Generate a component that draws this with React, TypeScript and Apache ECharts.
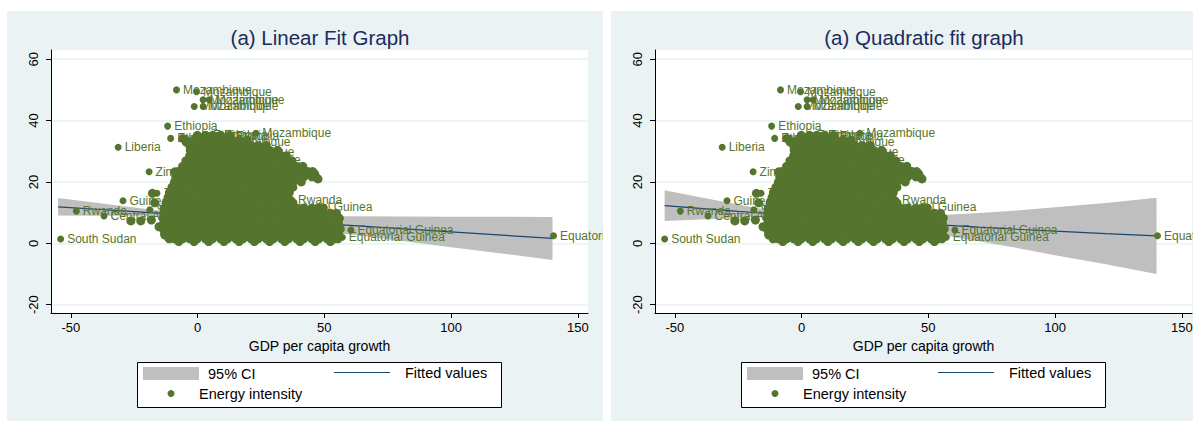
import React, { useEffect, useRef } from "react";
import * as echarts from "echarts";

const FONT = "'Liberation Sans', Arial, Helvetica, sans-serif";
const OLIVE = "#55752F";
const NAVY = "#1A476F";
const BAND = "#BFBFBF";
const PANEL_BG = "#EAF2F3";

const xTicks = [-50, 0, 50, 100, 150];
const yTicks = [-20, 0, 20, 40, 60];

// Linear fit and its 95% CI
const linX = [-55, -40, -25, -10, 0, 10, 25, 40, 60, 80, 100, 120, 140];
const linFit = [11.9, 11.11, 10.32, 9.53, 9.0, 8.47, 7.68, 6.89, 5.83, 4.78, 3.72, 2.66, 1.61];
const linLo = [9.05, 9.02, 8.99, 8.88, 8.68, 7.94, 6.49, 4.94, 2.87, 0.81, -1.26, -3.33, -5.39];
const linHi = [14.75, 13.2, 11.65, 10.18, 9.32, 9.0, 8.87, 8.84, 8.79, 8.75, 8.7, 8.65, 8.61];

// Quadratic fit and its 95% CI
const quadX = [-54, -40, -25, -10, 0, 10, 25, 40, 56, 70, 85, 100, 120, 140];
const quadFit = [12.3, 11.38, 10.43, 9.51, 8.92, 8.35, 7.52, 6.73, 5.93, 5.26, 4.59, 3.95, 3.16, 2.43];
const quadLo = [7.3, 7.78, 8.23, 8.61, 8.52, 7.85, 6.22, 4.43, 2.63, 0.66, -1.51, -3.85, -6.84, -9.97];
const quadHi = [17.3, 14.98, 12.63, 10.41, 9.32, 8.85, 8.82, 9.03, 9.23, 9.86, 10.69, 11.75, 13.16, 14.83];

// Energy intensity vs GDP per capita growth: labelled observations
const labeledPoints: [number, number, string][] = [
  [-8.3, 50.0, "Mozambique"],
  [-0.4, 49.4, "Mozambique"],
  [2.2, 46.8, "Mozambique"],
  [4.6, 46.8, "Mozambique"],
  [-1.3, 44.6, "Mozambique"],
  [2.2, 44.6, "Mozambique"],
  [-11.8, 38.2, "Ethiopia"],
  [-10.6, 34.2, "Ethiopia"],
  [3.5, 35.4, "Ethiopia"],
  [8.0, 35.2, "Ethiopia"],
  [12.5, 34.9, "Ethiopia"],
  [23.0, 35.9, "Mozambique"],
  [7.0, 33.1, "Mozambique"],
  [8.5, 29.9, "Mozambique"],
  [11.0, 27.3, "Mozambique"],
  [-31.3, 31.3, "Liberia"],
  [-19.1, 23.3, "Zimbabwe"],
  [-16.0, 16.3, "Zambia"],
  [-29.4, 13.9, "Guinea"],
  [-47.8, 10.5, "Rwanda"],
  [-36.9, 8.9, "Central African Republic"],
  [-18.8, 10.9, "Sierra Leone"],
  [-54.0, 1.4, "South Sudan"],
  [37.1, 14.1, "Rwanda"],
  [28.5, 11.7, "Equatorial Guinea"],
  [60.5, 4.3, "Equatorial Guinea"],
  [57.1, 2.0, "Equatorial Guinea"],
  [140.4, 2.5, "Equatorial Guinea"],
];

// Dense cloud of observations (drawn over the earlier labels)
const cloudExtras: [number, number][] = [
  [-9.0, 23.3], [-17.8, 16.3], [-16.9, 13.2], [-26.3, 7.3], [-22.4, 7.3],
  [-18.2, 7.6], [-15.2, 5.4], [-12.9, 2.7], [-5.8, 34.2], [-4.5, 33.0],
  [47.5, 21.0], [46.2, 22.6],
];

const cloudRows: [number, number[]][] = [
  [35.2, [-0.1, 3.1, 5.9, 9.1, 12.6]],
  [33.6, [-4.6, -1.4, 1.6, 4.4, 7.6, 10.4, 13.6, 16.4, 19.6]],
  [31.9, [-3.1, -0.1, 3.1, 5.9, 9.1, 11.9, 15.1, 17.9, 21.1, 23.9, 27.1]],
  [30.3, [-2.9, -1.4, 1.6, 4.4, 7.6, 10.4, 13.6, 16.4, 19.6, 22.4, 25.6, 28.4, 31.6]],
  [28.5, [-3.1, -0.1, 3.1, 5.9, 9.1, 11.9, 15.1, 17.9, 21.1, 23.9, 27.1, 29.9, 33.1, 35.0]],
  [26.9, [-4.6, -1.4, 1.6, 4.4, 7.6, 10.4, 13.6, 16.4, 19.6, 22.4, 25.6, 28.4, 31.6, 34.4, 37.2]],
  [25.1, [-5.9, -3.1, -0.1, 3.1, 5.9, 9.1, 11.9, 15.1, 17.9, 21.1, 23.9, 27.1, 29.9, 33.1, 35.9, 39.1, 41.5]],
  [23.4, [-7.4, -4.6, -1.4, 1.6, 4.4, 7.6, 10.4, 13.6, 16.4, 19.6, 22.4, 25.6, 28.4, 31.6, 34.4, 37.6, 40.4, 43.6, 45.4]],
  [21.7, [-8.6, -5.9, -3.1, -0.1, 3.1, 5.9, 9.1, 11.9, 15.1, 17.9, 21.1, 23.9, 27.1, 29.9, 33.1, 35.9, 39.1, 41.9, 45.1, 46.6]],
  [20.0, [-9.1, -7.4, -4.6, -1.4, 1.6, 4.4, 7.6, 10.4, 13.6, 16.4, 19.6, 22.4, 25.6, 28.4, 31.6, 34.4, 37.6, 40.9]],
  [18.3, [-10.1, -8.2, -5.9, -3.1, -0.1, 3.1, 5.9, 9.1, 11.9, 15.1, 17.9, 21.1, 23.9, 27.1, 29.9, 33.1, 35.9, 37.6]],
  [16.6, [-11.1, -8.9, -7.4, -4.6, -1.4, 1.6, 4.4, 7.6, 10.4, 13.6, 16.4, 19.6, 22.4, 25.6, 28.4, 31.6, 34.4, 36.2]],
  [14.9, [-11.6, -9.1, -5.9, -3.1, -0.1, 3.1, 5.9, 9.1, 11.9, 15.1, 17.9, 21.1, 23.9, 27.1, 29.9, 33.1, 35.7]],
  [13.2, [-12.4, -10.6, -7.4, -4.6, -1.4, 1.6, 4.4, 7.6, 10.4, 13.6, 16.4, 19.6, 22.4, 25.6, 28.4, 31.6, 34.4, 37.6]],
  [11.5, [-13.1, -12.1, -9.1, -5.9, -3.1, -0.1, 3.1, 5.9, 9.1, 11.9, 15.1, 17.9, 21.1, 23.9, 27.1, 29.9, 33.1, 35.9, 39.1, 41.9, 45.1, 47.9, 49.6]],
  [9.8, [-13.4, -10.6, -7.4, -4.6, -1.4, 1.6, 4.4, 7.6, 10.4, 13.6, 16.4, 19.6, 22.4, 25.6, 28.4, 31.6, 34.4, 37.6, 40.4, 43.6, 46.4, 49.6, 52.4, 54.8]],
  [8.2, [-13.6, -12.1, -9.1, -5.9, -3.1, -0.1, 3.1, 5.9, 9.1, 11.9, 15.1, 17.9, 21.1, 23.9, 27.1, 29.9, 33.1, 35.9, 39.1, 41.9, 45.1, 47.9, 51.1, 53.9, 55.9]],
  [6.4, [-13.4, -10.6, -7.4, -4.6, -1.4, 1.6, 4.4, 7.6, 10.4, 13.6, 16.4, 19.6, 22.4, 25.6, 28.4, 31.6, 34.4, 37.6, 40.4, 43.6, 46.4, 49.6, 52.4, 55.6]],
  [4.7, [-13.5, -12.1, -9.1, -5.9, -3.1, -0.1, 3.1, 5.9, 9.1, 11.9, 15.1, 17.9, 21.1, 23.9, 27.1, 29.9, 33.1, 35.9, 39.1, 41.9, 45.1, 47.9, 51.1, 53.9, 56.3]],
  [3.1, [-13.0, -10.6, -7.4, -4.6, -1.4, 1.6, 4.4, 7.6, 10.4, 13.6, 16.4, 19.6, 22.4, 25.6, 28.4, 31.6, 34.4, 37.6, 40.4, 43.6, 46.4, 49.6, 52.4, 55.6]],
  [1.5, [-11.2, -9.1, -5.9, -3.1, -0.1, 3.1, 5.9, 9.1, 11.9, 15.1, 17.9, 21.1, 23.9, 27.1, 29.9, 33.1, 35.9, 39.1, 41.9, 45.1, 47.9, 51.1, 53.9, 55.4]],
  [0.6, [-7.4, -1.4, 4.4, 10.4, 16.4, 22.4, 28.4, 34.4, 40.4, 46.4, 52.4]],
];

const legendTexts = ["95% CI", "Fitted values", "Energy intensity"];

type PanelProps = {
  title: string;
  left: number;
  bandX: number[];
  bandLo: number[];
  bandHi: number[];
  fit: number[];
};

function Panel({ title, left, bandX, bandLo, bandHi, fit }: PanelProps) {
  const ref = useRef<HTMLDivElement>(null);
  useEffect(() => {
    const chart = echarts.init(ref.current!, null, { renderer: "svg" });
    const cloud: number[][] = [];
    cloudRows.forEach(([y, xs]) => xs.forEach((x) => cloud.push([x, y])));
    cloudExtras.forEach((p) => cloud.push([p[0], p[1]]));
    const bandData = bandX.map((x, i) => [x, bandLo[i], bandHi[i]]);
    const fitData = bandX.map((x, i) => [x, fit[i]]);
    const txt = { fontFamily: FONT, color: "#000" };

    chart.setOption({
      animation: false,
      backgroundColor: PANEL_BG,
      textStyle: { fontFamily: FONT },
      grid: {
        left: 44, top: 39, width: 537, height: 263,
        show: true, backgroundColor: "#ffffff", borderWidth: 0,
      },
      xAxis: {
        type: "value", min: -57.8, max: 154,
        axisLine: { show: true, onZero: false, lineStyle: { color: "#000", width: 1 } },
        axisTick: { show: true, customValues: xTicks, length: 5, lineStyle: { color: "#000" } },
        axisLabel: { customValues: xTicks, fontSize: 13, margin: 8, ...txt },
        splitLine: { show: false },
        name: "GDP per capita growth", nameLocation: "middle", nameGap: 24,
        nameTextStyle: { fontSize: 14, ...txt },
      },
      yAxis: {
        type: "value", min: -22.7, max: 63,
        axisLine: { show: true, onZero: false, lineStyle: { color: "#000", width: 1 } },
        axisTick: { show: true, customValues: yTicks, length: 5, lineStyle: { color: "#000" } },
        axisLabel: { customValues: yTicks, fontSize: 13, margin: 11, rotate: 90, ...txt },
        splitLine: { show: false },
      },
      series: [
        {
          type: "scatter", data: [], z: 0, silent: true,
          markLine: {
            z: 0, silent: true, symbol: "none", label: { show: false },
            lineStyle: { color: PANEL_BG, width: 1.5, type: "solid" },
            data: yTicks.map((v) => ({ yAxis: v })),
          },
        },
        {
          type: "custom", z: 1, data: bandData, silent: true,
          renderItem: (params: any, api: any) => {
            if (params.dataIndex !== 0) return null;
            const pts: number[][] = [];
            for (let i = 0; i < bandData.length; i++) pts.push(api.coord([bandData[i][0], bandData[i][2]]));
            for (let i = bandData.length - 1; i >= 0; i--) pts.push(api.coord([bandData[i][0], bandData[i][1]]));
            return { type: "polygon", shape: { points: pts }, style: { fill: BAND } };
          },
        },
        {
          type: "line", z: 2, data: fitData, symbol: "none",
          lineStyle: { color: NAVY, width: 1.2 },
        },
        {
          type: "scatter", z: 3, symbolSize: 7,
          itemStyle: { color: OLIVE, opacity: 1 },
          data: labeledPoints.map(([x, y, n]) => ({ value: [x, y], name: n })),
          label: {
            show: true, position: "right", distance: 3, formatter: "{b}",
            fontSize: 12, color: OLIVE, fontFamily: FONT,
          },
        },
        {
          type: "scatter", z: 4, symbolSize: 9,
          itemStyle: { color: OLIVE, opacity: 1 },
          data: cloud,
        },
      ],
      graphic: [
        {
          type: "text", x: 313, y: 26,
          style: { text: title, fontSize: 20.5, fill: "#1C2B5C", fontFamily: FONT, align: "center", verticalAlign: "middle" },
        },
        {
          type: "rect", shape: { x: 130.5, y: 351.5, width: 364, height: 45 },
          style: { fill: "#ffffff", stroke: "#000", lineWidth: 1 },
        },
        { type: "rect", shape: { x: 136, y: 356, width: 56, height: 13 }, style: { fill: BAND } },
        {
          type: "text", x: 201, y: 363,
          style: { text: legendTexts[0], fontSize: 14.5, fill: "#000", fontFamily: FONT, verticalAlign: "middle" },
        },
        {
          type: "line", shape: { x1: 327, y1: 361.5, x2: 383, y2: 361.5 },
          style: { stroke: NAVY, lineWidth: 1.2 },
        },
        {
          type: "text", x: 398, y: 362,
          style: { text: legendTexts[1], fontSize: 14.5, fill: "#000", fontFamily: FONT, verticalAlign: "middle" },
        },
        { type: "circle", shape: { cx: 164, cy: 382.5, r: 3.5 }, style: { fill: OLIVE } },
        {
          type: "text", x: 192, y: 383,
          style: { text: legendTexts[2], fontSize: 14.5, fill: "#000", fontFamily: FONT, verticalAlign: "middle" },
        },
      ],
    });
    return () => chart.dispose();
  }, []);
  return (
    <div
      ref={ref}
      style={{ position: "absolute", left, top: 11, width: 596, height: 410 }}
    />
  );
}

export default function App() {
  return (
    <div
      style={{
        position: "absolute", left: 0, top: 0, width: 1193, height: 421,
        overflow: "hidden", background: "#ffffff",
      }}
    >
      <Panel title="(a) Linear Fit Graph" left={7} bandX={linX} bandLo={linLo} bandHi={linHi} fit={linFit} />
      <Panel title="(a) Quadratic fit graph" left={611} bandX={quadX} bandLo={quadLo} bandHi={quadHi} fit={quadFit} />
    </div>
  );
}
